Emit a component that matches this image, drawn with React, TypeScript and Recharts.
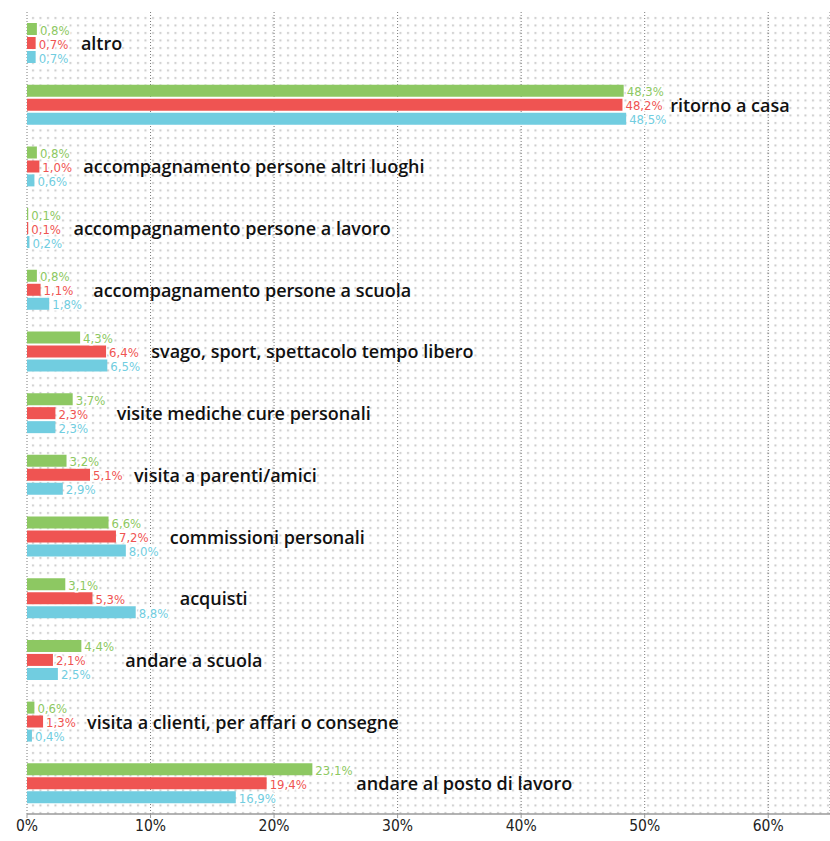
import { BarChart, Bar, XAxis, YAxis, CartesianGrid, LabelList } from 'recharts';

const categories = [
  'altro',
  'ritorno a casa',
  'accompagnamento persone altri luoghi',
  'accompagnamento persone a lavoro',
  'accompagnamento persone a scuola',
  'svago, sport, spettacolo tempo libero',
  'visite mediche cure personali',
  'visita a parenti/amici',
  'commissioni personali',
  'acquisti',
  'andare a scuola',
  'visita a clienti, per affari o consegne',
  'andare al posto di lavoro',
];

const greenValues = [0.8, 48.3, 0.8, 0.1, 0.8, 4.3, 3.7, 3.2, 6.6, 3.1, 4.4, 0.6, 23.1];
const redValues = [0.7, 48.2, 1.0, 0.1, 1.1, 6.4, 2.3, 5.1, 7.2, 5.3, 2.1, 1.3, 19.4];
const cyanValues = [0.7, 48.5, 0.6, 0.2, 1.8, 6.5, 2.3, 2.9, 8.0, 8.8, 2.5, 0.4, 16.9];

const xTicks = [0, 10, 20, 30, 40, 50, 60];
const rowTicks = categories.map((_, i) => i).concat(categories.length);

const GREEN = '#8dc862';
const RED = '#ef5452';
const CYAN = '#71cde0';

const data = categories.map((name, i) => ({
  name,
  green: greenValues[i],
  red: redValues[i],
  cyan: cyanValues[i],
}));

const fmt = (v: number) => `${v.toFixed(1).replace('.', ',')}%`;

function valueLabel(color: string) {
  return (props: any) => {
    const { x, y, width, height, value } = props;
    return (
      <text
        x={x + width + 3}
        y={y + height / 2 + 1}
        dominantBaseline="central"
        fontSize={13}
        fontFamily="'DejaVu Sans Condensed', 'Liberation Sans Narrow', sans-serif"
        fill={color}
        stroke="#ffffff"
        strokeWidth={3}
        paintOrder="stroke"
      >
        {fmt(value)}
      </text>
    );
  };
}

// category name sits to the right of the longest bar of its row
function nameLabel(props: any) {
  const { x, y, width, height, value, index } = props;
  const row = data[index];
  const maxVal = Math.max(row.green, row.red, row.cyan);
  const pxPerUnit = width / value;
  return (
    <text
      x={x + maxVal * pxPerUnit + 44}
      y={y + height / 2}
      dominantBaseline="central"
      fontSize={18}
      fontWeight={600}
      fontFamily="'Open Sans', 'Noto Sans', sans-serif"
      fill="#111111"
    >
      {row.name}
    </text>
  );
}

export default function App() {
  return (
    <div style={{ position: 'absolute', left: 0, top: 0, background: '#fff' }}>
      <BarChart
        width={830}
        height={841}
        data={data}
        layout="vertical"
        margin={{ top: 12, right: 0, bottom: 0, left: 0 }}
        barSize={12}
        barGap={2}
      >
        <defs>
          <pattern id="dots" width="7.5" height="7.5" patternUnits="userSpaceOnUse">
            <rect x="2" y="2" width="2" height="2" fill="#cacaca" />
          </pattern>
        </defs>
        <CartesianGrid
          horizontal={false}
          stroke="#7a7a7a"
          strokeDasharray="1 2"
          fill="url(#dots)"
        />
        <XAxis
          type="number"
          domain={[0, 65]}
          ticks={xTicks}
          tickFormatter={(v) => `${v}%`}
          height={27}
          axisLine={{ stroke: '#9a9a9a', strokeWidth: 1.5 }}
          tickLine={{ stroke: '#9a9a9a' }}
          tickSize={4}
          tick={{ fontSize: 15.5, fill: '#222', fontFamily: "'DejaVu Sans Condensed', 'Liberation Sans Narrow', sans-serif" }}
        />
        <YAxis type="category" dataKey="name" hide />
        <YAxis
          yAxisId="rows"
          type="number"
          domain={[0, categories.length]}
          ticks={rowTicks}
          width={27}
          axisLine={{ stroke: '#9a9a9a', strokeWidth: 1.5 }}
          tickLine={{ stroke: '#9a9a9a' }}
          tickSize={4}
          tickFormatter={() => ''}
        />
        <Bar dataKey="green" fill={GREEN} isAnimationActive={false}>
          <LabelList dataKey="green" content={valueLabel(GREEN)} />
        </Bar>
        <Bar dataKey="red" fill={RED} isAnimationActive={false}>
          <LabelList dataKey="red" content={valueLabel(RED)} />
          <LabelList dataKey="red" content={nameLabel} />
        </Bar>
        <Bar dataKey="cyan" fill={CYAN} isAnimationActive={false}>
          <LabelList dataKey="cyan" content={valueLabel(CYAN)} />
        </Bar>
      </BarChart>
    </div>
  );
}
